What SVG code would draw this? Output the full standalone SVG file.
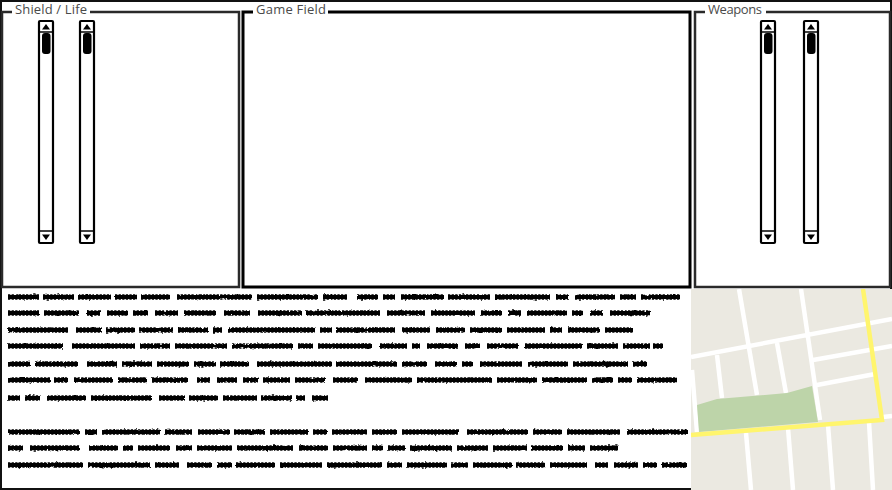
<svg xmlns="http://www.w3.org/2000/svg" width="892" height="490" viewBox="0 0 892 490">
<style>
.frame{fill:none;stroke:#111;stroke-width:2}
.panel{fill:#fff;stroke:#2a2a2a;stroke-width:2.5}
.panel.main{stroke:#000;stroke-width:3}
.gap{fill:#fff;stroke:none}
.lbl{font-family:"Open Sans","Liberation Sans",sans-serif;font-size:13px;fill:#4a4a4a}
.sb{fill:#fff;stroke:#000;stroke-width:2.2}
.th{fill:#000}
.road{fill:none;stroke:#fff;stroke-width:4.5}
.scr{fill:none;stroke:#000;filter:url(#soft)}
.base{stroke-width:4.2}
.teeth{stroke-width:5.4;stroke-dasharray:2.3 1.3}
</style>
<defs>
<filter id="soft" x="-1%" y="-2%" width="102%" height="104%">
<feTurbulence type="fractalNoise" baseFrequency="0.18 0.3" numOctaves="2" seed="7" result="n"/>
<feDisplacementMap in="SourceGraphic" in2="n" scale="2.2" xChannelSelector="R" yChannelSelector="G" result="d"/>
<feGaussianBlur in="d" stdDeviation="0.35"/>
</filter>
<clipPath id="mapclip"><rect x="691" y="289" width="201" height="201"/></clipPath>
<g id="scroll">
<rect class="sb" x="1" y="1" width="14" height="222" rx="1"/>
<path d="M1 12H15M1 211H15" fill="none" stroke="#000" stroke-width="1.6"/>
<path class="th" d="M4 9.5L8 4L12 9.5Z"/>
<path class="th" d="M4 214.5H12L8 220Z"/>
<rect class="th" x="4" y="13" width="8.5" height="21" rx="3"/>
</g>
<path id="words" d="M8 297H39M43 297H74M78 297H111M115 297H137M141 297H170M177 297H252M257 297H318M323 297H347M357 297H378M383 297H395M401 297H444M448 297H490M495 297H550M556 297H569M575 297H615M620 297H636M641 297H680
M8 313H39M44 313H79M87 313H100M107 313H128M133 313H148M155 313H178M184 313H216M224 313H250M258 313H302M306 313H380M387 313H425M431 313H475M481 313H502M508 313H521M527 313H567M572 313H583M590 313H603M610 313H650
M8 330H68M76 330H102M106 330H135M139 330H173M178 330H208M213 330H222M228 330H315M320 330H332M336 330H395M402 330H430M436 330H465M470 330H502M507 330H545M550 330H562M568 330H600M605 330H633
M8 346H63M72 346H135M140 346H170M175 346H227M232 346H293M298 346H313M318 346H372M380 346H407M412 346H420M427 346H458M465 346H480M487 346H518M525 346H582M587 346H618M623 346H650M653 346H663
M8 364H30M35 364H78M87 364H117M122 364H152M157 364H189M194 364H216M220 364H249M257 364H332M336 364H397M402 364H427M435 364H457M462 364H473M480 364H522M528 364H568M573 364H628M633 364H647
M8 380H50M54 380H68M74 380H113M118 380H147M152 380H188M197 380H210M217 380H237M243 380H258M263 380H290M295 380H325M333 380H358M365 380H412M417 380H492M497 380H537M542 380H587M592 380H613M618 380H632M637 380H677
M8 398H20M25 398H40M47 398H86M91 398H152M159 398H185M189 398H218M223 398H257M261 398H292M296 398H305M312 398H328
M8 432H80M85 432H97M102 432H160M165 432H192M198 432H230M234 432H265M270 432H308M313 432H327M332 432H367M372 432H397M402 432H458M467 432H528M533 432H562M567 432H620M627 432H688
M8 448H23M30 448H80M89 448H118M123 448H133M138 448H170M176 448H192M197 448H232M237 448H293M299 448H328M333 448H367M372 448H383M388 448H405M410 448H452M457 448H488M493 448H527M531 448H563M568 448H585M590 448H618
M8 465H83M88 465H150M155 465H180M187 465H212M217 465H232M236 465H275M280 465H322M327 465H382M387 465H402M407 465H447M451 465H468M473 465H512M516 465H545M550 465H587M595 465H608M614 465H638M643 465H657M662 465H687"/>
</defs>
<rect width="892" height="490" fill="#fff"/>
<g id="frame"><rect class="frame" x="1" y="1" width="890" height="488"/></g>
<g id="shield-life">
<rect class="panel" x="2" y="12" width="237" height="275"/>
<rect class="gap" x="12" y="5" width="78" height="12"/>
<text class="lbl" x="15" y="14" textLength="72">Shield / Life</text>
<use href="#scroll" x="38" y="20"/>
<use href="#scroll" x="79" y="20"/>
</g>
<g id="game-field">
<rect class="panel main" x="243" y="12" width="447" height="275"/>
<rect class="gap" x="253" y="5" width="75" height="12"/>
<text class="lbl" x="256" y="14" textLength="70">Game Field</text>
</g>
<g id="weapons">
<rect class="panel" x="695" y="12" width="195" height="275"/>
<rect class="gap" x="705" y="5" width="61" height="12"/>
<text class="lbl" x="708" y="14" textLength="54">Weapons</text>
<use href="#scroll" x="760" y="20"/>
<use href="#scroll" x="803" y="20"/>
</g>
<g id="paragraphs" class="scr">
<use href="#words" class="base"/>
<use href="#words" class="teeth"/>
</g>
<g id="map" clip-path="url(#mapclip)">
<rect x="691" y="289" width="201" height="201" fill="#ebe9e1"/>
<path class="road" d="M691 357L892 319M739 289L757 395M746 433L751 490M801 289L820 420M717 355L722 398M777 343L786 393M813 360L892 346M817 385L875 374M692 370L697 432M788 428L793 490M828 425L833 490M869 422L873 490M883 417L892 416"/>
<path d="M697 405L717 399L787 393L812 386L818 422L699 432Z" fill="#bdd4a9"/>
<path d="M863 289L882 420L691 435" fill="none" stroke="#fff56d" stroke-width="4.5"/>
</g>
</svg>
